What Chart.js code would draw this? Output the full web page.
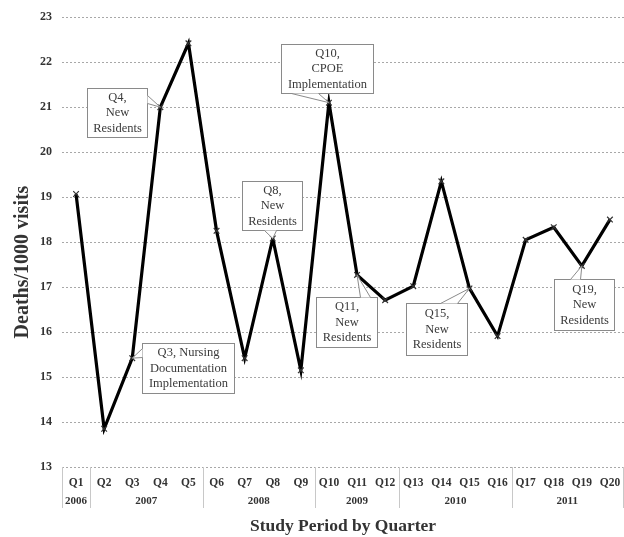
<!DOCTYPE html>
<html>
<head>
<meta charset="utf-8">
<title>Deaths per 1000 visits by quarter</title>
<script src="https://cdn.jsdelivr.net/npm/chart.js@4.4.0/dist/chart.umd.min.js"></script>
<style>
  html, body { margin: 0; padding: 0; background: #fff; }
  #wrap { width: 624px; height: 537px; }
</style>
</head>
<body>
<div id="wrap"><canvas id="chart" width="624" height="537"></canvas></div>
<script>
// data
const quarters = ["Q1","Q2","Q3","Q4","Q5","Q6","Q7","Q8","Q9","Q10",
                  "Q11","Q12","Q13","Q14","Q15","Q16","Q17","Q18","Q19","Q20"];
const deathRate = [19.07, 13.85, 15.42, 21.0, 22.42, 18.25, 15.42, 18.08, 15.15, 21.1,
                   17.27, 16.71, 17.02, 19.35, 16.97, 15.91, 18.05, 18.33, 17.47, 18.5];
const years = ["2006","2007","2008","2009","2010","2011"];
const quartersPerYear = [1, 4, 4, 3, 4, 4];

// callout boxes: quarter index, text, box offset from the point, size, wedge base on the box
const callouts = [
  { i: 2,  lines: ["Q3, Nursing","Documentation","Implementation"], dx: 10,  dy: -15, w: 92, h: 50, base: [[0,5],[0,14]] },
  { i: 3,  lines: ["Q4,","New","Residents"],                      dx: -73, dy: -19, w: 60, h: 49, base: [[60,7],[60,15]] },
  { i: 7,  lines: ["Q8,","New","Residents"],                      dx: -31, dy: -58, w: 60, h: 49, base: [[22,49],[34,49]] },
  { i: 9,  lines: ["Q10,","CPOE","Implementation"],               dx: -48, dy: -59, w: 92, h: 49, base: [[10,49],[37,49]] },
  { i: 10, lines: ["Q11,","New","Residents"],                     dx: -41, dy: 22,  w: 61, h: 50, base: [[44,0],[54,0]] },
  { i: 14, lines: ["Q15,","New","Residents"],                     dx: -63, dy: 15,  w: 61, h: 52, base: [[34,0],[51,0]] },
  { i: 18, lines: ["Q19,","New","Residents"],                     dx: -28, dy: 13,  w: 60, h: 51, base: [[16,0],[26,0]] }
];

const serif = "'Liberation Serif', 'Times New Roman', serif";

const yearRow = {
  id: "yearRow",
  afterDraw(chart) {
    const { ctx, chartArea, scales: { x } } = chart;
    const top = chartArea.bottom, bottom = chartArea.bottom + 41;
    ctx.save();
    ctx.strokeStyle = "#c8c8c8";
    ctx.lineWidth = 1;
    ctx.font = "bold 11px " + serif;
    ctx.fillStyle = "#333";
    ctx.textAlign = "center";
    ctx.textBaseline = "middle";
    let start = 0;
    const edge = k => k <= 0 ? chartArea.left
      : k >= quarters.length ? chartArea.right - 1
      : (x.getPixelForValue(k - 1) + x.getPixelForValue(k)) / 2;
    const line = px => { ctx.beginPath(); ctx.moveTo(Math.round(px) + 0.5, top); ctx.lineTo(Math.round(px) + 0.5, bottom); ctx.stroke(); };
    line(edge(0));
    quartersPerYear.forEach((n, k) => {
      const a = edge(start), b = edge(start + n);
      line(b);
      ctx.fillText(years[k], (a + b) / 2, chartArea.bottom + 34);
      start += n;
    });
    // y axis title, sits a little below the plot centre as in the original
    ctx.translate(23, 262);
    ctx.rotate(-Math.PI / 2);
    ctx.font = "bold 20px " + serif;
    ctx.fillText("Deaths/1000 visits", 0, 0);
    ctx.restore();
  }
};

const calloutBoxes = {
  id: "calloutBoxes",
  afterDatasetsDraw(chart) {
    const { ctx } = chart;
    const pts = chart.getDatasetMeta(0).data;
    ctx.save();
    ctx.lineWidth = 1;
    callouts.forEach(c => {
      const p = pts[c.i];
      const bx = Math.round(p.x + c.dx) + 0.5, by = Math.round(p.y + c.dy) + 0.5;
      const b1 = [bx + c.base[0][0], by + c.base[0][1]];
      const b2 = [bx + c.base[1][0], by + c.base[1][1]];
      ctx.fillStyle = "#fff";
      ctx.strokeStyle = "#8a8a8a";
      ctx.fillRect(bx, by, c.w, c.h);
      ctx.strokeRect(bx, by, c.w, c.h);
      // wedge pointer
      ctx.beginPath();
      ctx.moveTo(b1[0], b1[1]);
      ctx.lineTo(p.x, p.y);
      ctx.lineTo(b2[0], b2[1]);
      ctx.closePath();
      ctx.fill();
      ctx.beginPath();
      ctx.moveTo(b1[0], b1[1]);
      ctx.lineTo(p.x, p.y);
      ctx.lineTo(b2[0], b2[1]);
      ctx.stroke();
      ctx.fillStyle = "#3a3a3a";
      ctx.font = "12.5px " + serif;
      ctx.textAlign = "center";
      ctx.textBaseline = "middle";
      const lh = 15.5;
      const cy = by + c.h / 2 - lh * (c.lines.length - 1) / 2;
      c.lines.forEach((t, k) => ctx.fillText(t, bx + c.w / 2, cy + k * lh));
    });
    ctx.restore();
  }
};

new Chart(document.getElementById("chart"), {
  type: "line",
  data: {
    labels: quarters,
    datasets: [{
      data: deathRate,
      borderColor: "#000",
      borderWidth: 3.2,
      tension: 0,
      pointStyle: "crossRot",
      pointRadius: 4,
      pointBorderWidth: 1.2,
      pointBorderColor: "#333",
      pointBackgroundColor: "#333"
    }]
  },
  options: {
    responsive: false,
    animation: false,
    layout: { autoPadding: false, padding: { top: 17, right: 0, left: 0, bottom: 0 } },
    plugins: { legend: { display: false }, tooltip: { enabled: false } },
    scales: {
      x: {
        offset: true,
        // tick marks are hidden, their length only pushes the labels down
        grid: { display: false, drawTicks: true, tickLength: 9 },
        border: { display: false },
        ticks: {
          autoSkip: false, maxRotation: 0, padding: 0,
          color: "#333", font: { family: serif, size: 11.5, weight: "bold" }
        },
        title: {
          display: true, text: "Study Period by Quarter", color: "#333",
          font: { family: serif, size: 17.5, weight: "bold" }, padding: { top: 0, bottom: 0 }
        },
        afterFit(scale) { scale.height = 70; }
      },
      y: {
        min: 13, max: 23,
        grid: { color: "#a8a8a8", drawTicks: false, lineWidth: 1 },
        border: { display: false, dash: [2, 2] },
        ticks: {
          stepSize: 1, padding: 10, color: "#333",
          font: { family: serif, size: 12, weight: "bold" }
        },
        afterFit(scale) { scale.width = 62; }
      }
    }
  },
  plugins: [yearRow, calloutBoxes]
});
</script>
</body>
</html>
